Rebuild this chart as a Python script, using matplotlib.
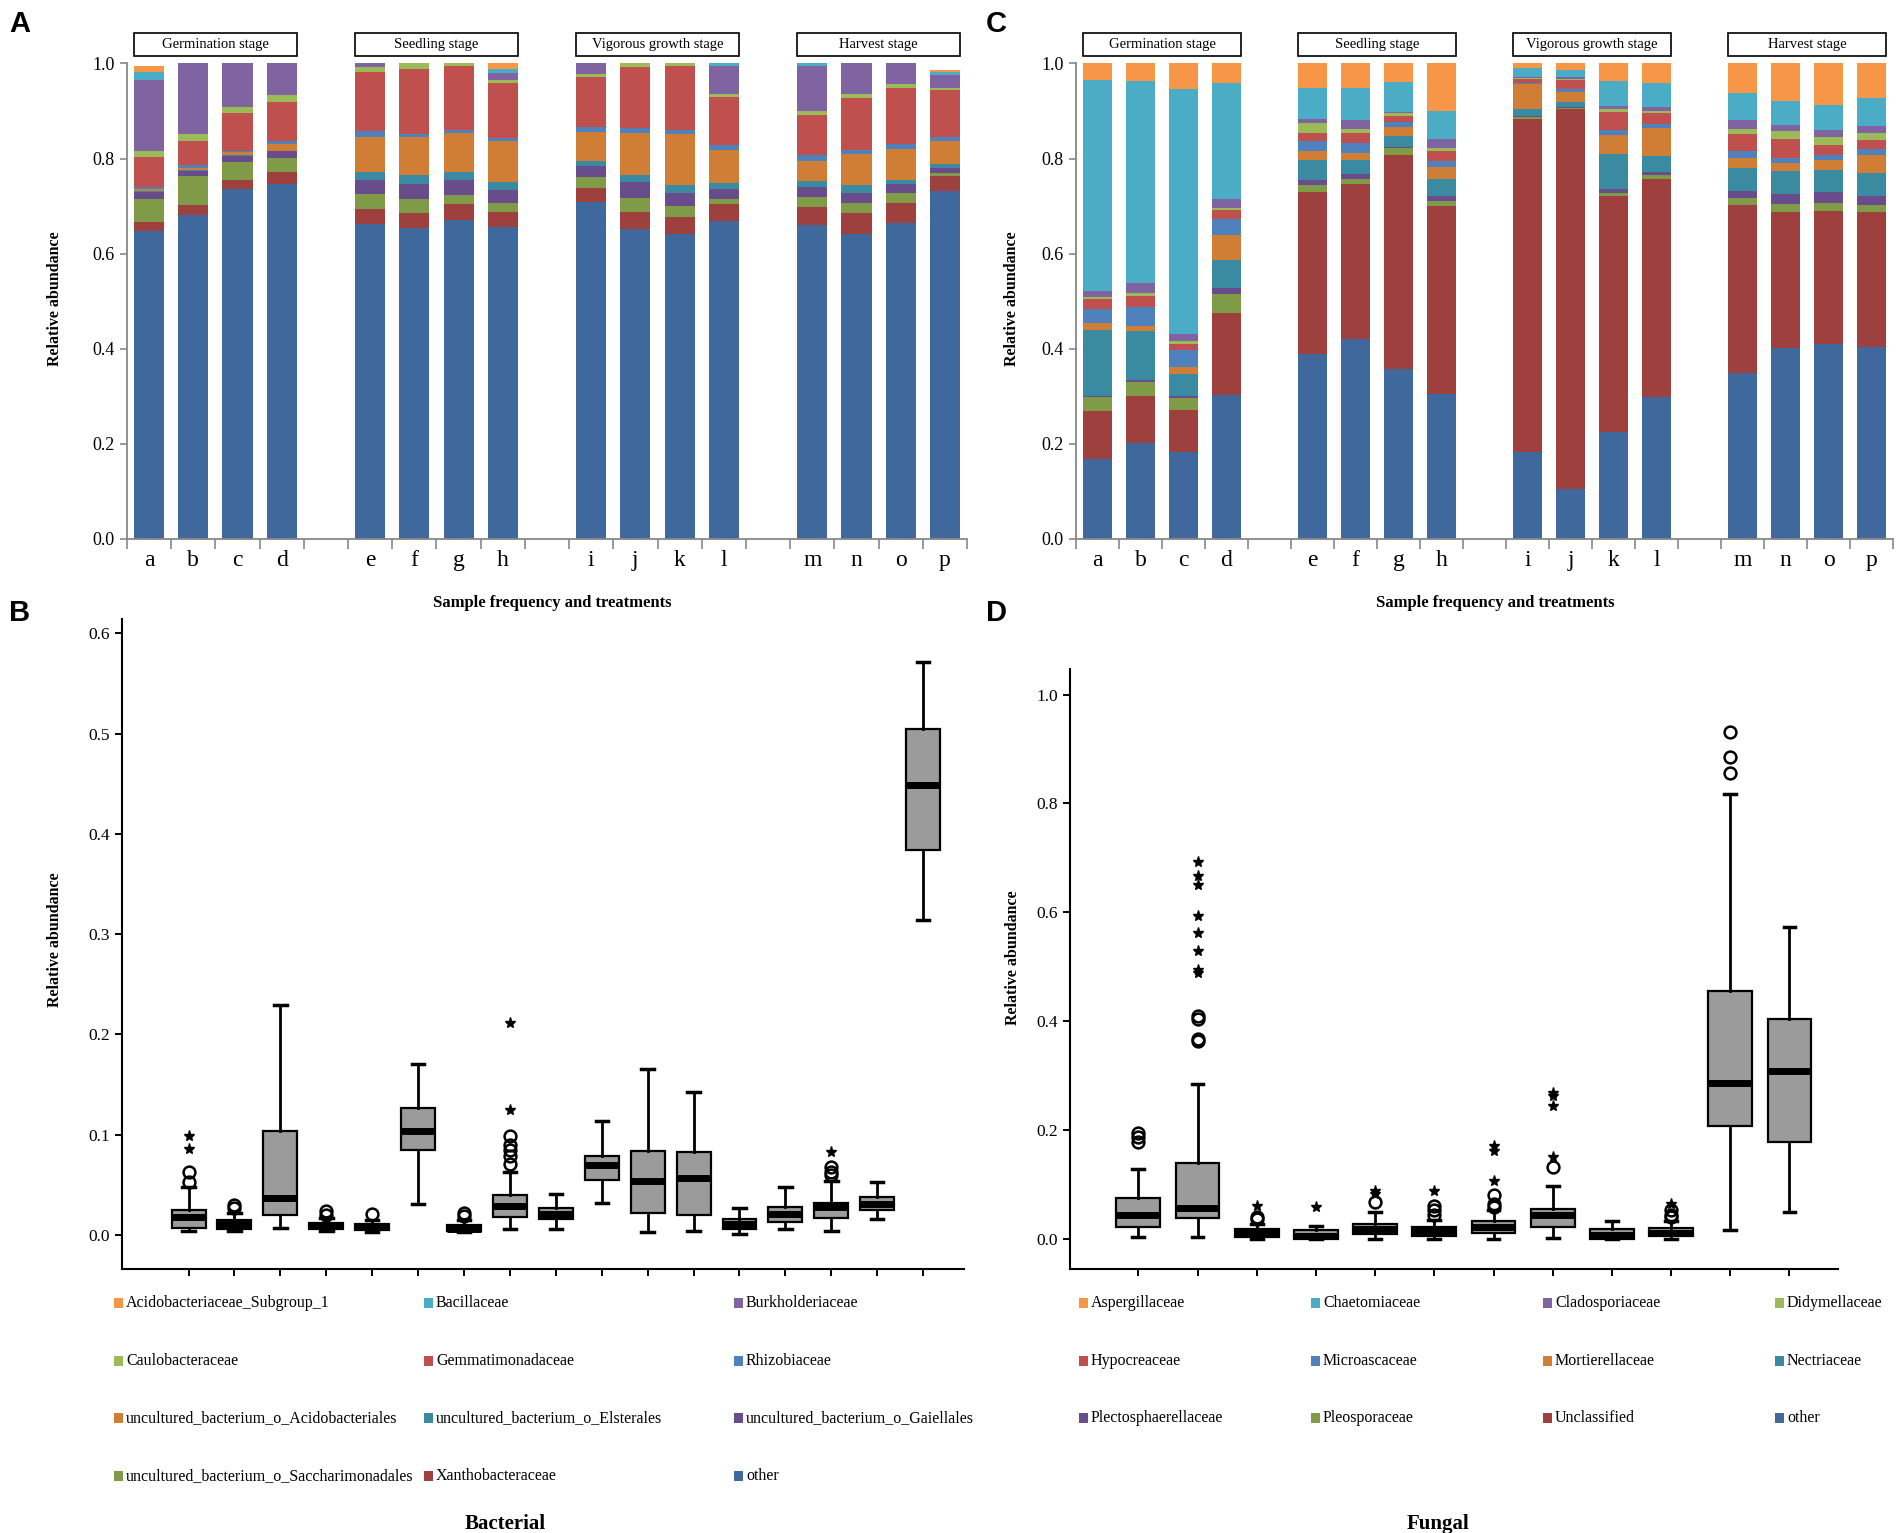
import numpy as np
import matplotlib
matplotlib.use("Agg")
import matplotlib.pyplot as plt
from matplotlib.patches import Rectangle
import matplotlib.transforms as mtrans

plt.rcParams['font.family'] = ['Liberation Serif', 'DejaVu Serif']

W, H = 1904, 1533

samples = list("abcdefghijklmnop")
stages = ["Germination stage", "Seedling stage", "Vigorous growth stage", "Harvest stage"]

# ---------------- Bacterial relative abundance: cumulative tops (bottom -> top stacking) ----
bac_other = [0.648, 0.681, 0.736, 0.746, 0.663, 0.654, 0.670, 0.656, 0.709, 0.651, 0.642, 0.668, 0.660, 0.642, 0.665, 0.732]
bac_xantho = [0.666, 0.703, 0.755, 0.771, 0.695, 0.686, 0.704, 0.688, 0.739, 0.687, 0.677, 0.704, 0.699, 0.686, 0.706, 0.764]
bac_sacchar = [0.714, 0.763, 0.792, 0.801, 0.726, 0.716, 0.724, 0.706, 0.762, 0.718, 0.701, 0.716, 0.720, 0.707, 0.727, 0.769]
bac_gaiell = [0.729, 0.774, 0.805, 0.815, 0.755, 0.746, 0.755, 0.734, 0.785, 0.751, 0.728, 0.736, 0.741, 0.727, 0.747, 0.781]
bac_elster = [0.732, 0.777, 0.808, 0.816, 0.772, 0.766, 0.771, 0.751, 0.796, 0.766, 0.745, 0.748, 0.753, 0.745, 0.756, 0.788]
bac_acidobacteriales = [0.736, 0.781, 0.813, 0.830, 0.846, 0.845, 0.854, 0.836, 0.855, 0.854, 0.852, 0.819, 0.795, 0.809, 0.821, 0.838]
bac_rhizo = [0.740, 0.786, 0.817, 0.838, 0.857, 0.852, 0.860, 0.843, 0.866, 0.864, 0.860, 0.829, 0.807, 0.818, 0.830, 0.845]
bac_gemmat = [0.804, 0.836, 0.896, 0.919, 0.982, 0.989, 0.995, 0.958, 0.971, 0.992, 0.995, 0.929, 0.892, 0.927, 0.948, 0.944]
bac_caulo = [0.817, 0.851, 0.908, 0.933, 0.993, 1.0, 1.0, 0.965, 0.978, 1.0, 1.0, 0.936, 0.901, 0.936, 0.956, 0.949]
bac_burkh = [0.965, 1.0, 1.0, 1.0, 1.0, 1.0, 1.0, 0.981, 1.0, 1.0, 1.0, 0.995, 0.995, 1.0, 1.0, 0.975]
bac_bacill = [0.983, 1.0, 1.0, 1.0, 1.0, 1.0, 1.0, 0.988, 1.0, 1.0, 1.0, 1.0, 1.0, 1.0, 1.0, 0.982]
bac_acidosub1 = [0.995, 1.0, 1.0, 1.0, 1.0, 1.0, 1.0, 1.0, 1.0, 1.0, 1.0, 1.0, 1.0, 1.0, 1.0, 0.986]

bac_names = ["Acidobacteriaceae_Subgroup_1", "Bacillaceae", "Burkholderiaceae",
             "Caulobacteraceae", "Gemmatimonadaceae", "Rhizobiaceae",
             "uncultured_bacterium_o_Acidobacteriales", "uncultured_bacterium_o_Elsterales",
             "uncultured_bacterium_o_Gaiellales", "uncultured_bacterium_o_Saccharimonadales",
             "Xanthobacteraceae", "other"]
bac_tops = [bac_acidosub1, bac_bacill, bac_burkh, bac_caulo, bac_gemmat, bac_rhizo,
            bac_acidobacteriales, bac_elster, bac_gaiell, bac_sacchar, bac_xantho, bac_other]

# ---------------- Fungal relative abundance: cumulative tops ----
fun_other = [0.169, 0.201, 0.184, 0.303, 0.389, 0.421, 0.357, 0.305, 0.183, 0.106, 0.224, 0.298, 0.350, 0.401, 0.410, 0.403]
fun_unclass = [0.269, 0.301, 0.272, 0.475, 0.730, 0.746, 0.808, 0.701, 0.884, 0.905, 0.722, 0.757, 0.702, 0.688, 0.690, 0.688]
fun_pleospor = [0.298, 0.331, 0.296, 0.516, 0.745, 0.757, 0.822, 0.711, 0.887, 0.907, 0.728, 0.765, 0.718, 0.704, 0.707, 0.702]
fun_plecto = [0.300, 0.334, 0.301, 0.528, 0.754, 0.767, 0.824, 0.721, 0.889, 0.908, 0.736, 0.771, 0.732, 0.726, 0.729, 0.722]
fun_nectri = [0.440, 0.437, 0.348, 0.587, 0.797, 0.797, 0.847, 0.757, 0.905, 0.919, 0.810, 0.806, 0.781, 0.773, 0.776, 0.769]
fun_mortier = [0.454, 0.447, 0.362, 0.639, 0.817, 0.812, 0.866, 0.782, 0.956, 0.941, 0.850, 0.864, 0.802, 0.790, 0.797, 0.808]
fun_microasc = [0.484, 0.487, 0.397, 0.672, 0.838, 0.833, 0.877, 0.794, 0.958, 0.947, 0.861, 0.873, 0.815, 0.801, 0.808, 0.821]
fun_hypocr = [0.504, 0.512, 0.410, 0.691, 0.854, 0.854, 0.889, 0.815, 0.968, 0.965, 0.898, 0.895, 0.852, 0.841, 0.828, 0.839]
fun_didym = [0.509, 0.517, 0.416, 0.697, 0.875, 0.863, 0.895, 0.822, 0.970, 0.967, 0.904, 0.901, 0.863, 0.857, 0.846, 0.853]
fun_clado = [0.521, 0.539, 0.431, 0.714, 0.884, 0.882, 0.898, 0.842, 0.972, 0.972, 0.911, 0.908, 0.881, 0.870, 0.860, 0.868]
fun_chaet = [0.965, 0.963, 0.947, 0.958, 0.949, 0.948, 0.962, 0.900, 0.990, 0.987, 0.963, 0.958, 0.937, 0.922, 0.913, 0.928]
fun_asperg = [1.0] * 16

fun_names = ["Aspergillaceae", "Chaetomiaceae", "Cladosporiaceae", "Didymellaceae",
             "Hypocreaceae", "Microascaceae", "Mortierellaceae", "Nectriaceae",
             "Plectosphaerellaceae", "Pleosporaceae", "Unclassified", "other"]
fun_tops = [fun_asperg, fun_chaet, fun_clado, fun_didym, fun_hypocr, fun_microasc,
            fun_mortier, fun_nectri, fun_plecto, fun_pleospor, fun_unclass, fun_other]

colors = ['#F79646', '#4BACC6', '#8064A2', '#9BBB59', '#C0504D', '#4F81BD',
          '#D07D35', '#3A8BA2', '#694C8C', '#7F9B47', '#9E403E', '#3F699C']

# ---------------- Box plot statistics, bacterial ----
bac_whislo = [0.004, 0.004, 0.007, 0.004, 0.003, 0.031, 0.003, 0.006, 0.006, 0.032, 0.003, 0.004, 0.001, 0.006, 0.004, 0.016, 0.314]
bac_q1 = [0.007, 0.006, 0.020, 0.006, 0.005, 0.085, 0.004, 0.018, 0.016, 0.055, 0.022, 0.020, 0.006, 0.013, 0.017, 0.025, 0.384]
bac_med = [0.018, 0.011, 0.037, 0.009, 0.008, 0.104, 0.006, 0.029, 0.021, 0.070, 0.054, 0.057, 0.011, 0.021, 0.028, 0.031, 0.449]
bac_q3 = [0.025, 0.015, 0.104, 0.012, 0.011, 0.127, 0.010, 0.040, 0.027, 0.079, 0.084, 0.083, 0.016, 0.028, 0.032, 0.038, 0.505]
bac_whishi = [0.048, 0.022, 0.229, 0.017, 0.015, 0.170, 0.015, 0.063, 0.041, 0.114, 0.166, 0.143, 0.027, 0.048, 0.054, 0.053, 0.572]
bac_circles = [[0.053, 0.063], [0.027, 0.030], [], [0.020, 0.024], [0.021], [], [0.019, 0.022],
               [0.071, 0.079, 0.085, 0.090, 0.099], [], [], [], [], [], [], [0.060, 0.063, 0.068], [], []]
bac_stars = [[0.086, 0.099], [], [], [], [], [], [], [0.125, 0.211], [], [], [], [], [], [], [0.083], [], []]

# ---------------- Box plot statistics, fungal ----
fun_whislo = [0.004, 0.004, 0.000, 0.000, 0.001, 0.001, 0.001, 0.002, 0.000, 0.001, 0.016, 0.049]
fun_q1 = [0.023, 0.038, 0.004, 0.001, 0.010, 0.0065, 0.012, 0.023, 0.000, 0.006, 0.207, 0.179]
fun_med = [0.045, 0.057, 0.011, 0.0065, 0.019, 0.015, 0.023, 0.045, 0.008, 0.012, 0.286, 0.309]
fun_q3 = [0.076, 0.140, 0.019, 0.016, 0.028, 0.022, 0.033, 0.055, 0.018, 0.020, 0.456, 0.404]
fun_whishi = [0.128, 0.285, 0.027, 0.024, 0.049, 0.035, 0.053, 0.098, 0.033, 0.033, 0.818, 0.574]
fun_circles = [[0.179, 0.187, 0.194], [0.363, 0.367, 0.405, 0.409], [0.037, 0.041], [], [0.068],
               [0.045, 0.053, 0.061], [0.058, 0.065, 0.081], [0.132], [], [0.040, 0.045, 0.053],
               [0.856, 0.885, 0.932], []]
fun_stars = [[], [0.488, 0.495, 0.529, 0.563, 0.594, 0.651, 0.667, 0.692], [0.061], [0.059],
             [0.083, 0.089], [0.089], [0.107, 0.161, 0.171], [0.151, 0.244, 0.263, 0.269], [],
             [0.065], [], []]

fig = plt.figure(figsize=(W / 100, H / 100), dpi=100)
fig.patch.set_facecolor('white')


def fbox(l, t, r, b):
    return [l / W, 1 - b / H, (r - l) / W, (b - t) / H]


def ftxt(x, y, s, **kw):
    fig.text(x / W, 1 - y / H, s, **kw)


xpos = np.array([g * 5 + k for g in range(4) for k in range(4)], dtype=float)
BW = 0.68


def stacked(ax, tops, cols):
    prev = np.zeros(16)
    for tvals, c in zip(tops[::-1], cols[::-1]):
        t = np.array(tvals)
        h = np.clip(t - prev, 0, None)
        ax.bar(xpos, h, bottom=prev, width=BW, color=c, linewidth=0)
        prev = np.maximum(prev, t)
    ax.set_xlim(-0.5, 18.5)
    ax.set_ylim(0, 1.0)
    ax.set_yticks(np.arange(0, 1.01, 0.2))
    ax.set_yticklabels(["%.1f" % v for v in np.arange(0, 1.01, 0.2)], fontsize=13)
    ax.set_xticks(xpos)
    ax.set_xticklabels(samples, fontsize=17)
    ax.tick_params(axis='x', which='major', length=0, pad=8)
    ax.set_xticks(np.arange(-0.5, 18.6, 1.0), minor=True)
    ax.tick_params(axis='x', which='minor', length=7, width=1.2, color='#888888', direction='out')
    ax.tick_params(axis='y', length=5, width=1.2, color='#888888', direction='out', pad=4)
    for s in ['top', 'right']:
        ax.spines[s].set_visible(False)
    for s in ['left', 'bottom']:
        ax.spines[s].set_color('#888888')
        ax.spines[s].set_linewidth(1.3)
    trans = mtrans.blended_transform_factory(ax.transData, ax.transAxes)
    for g, st in enumerate(stages):
        x0 = g * 5 - BW / 2
        x1 = g * 5 + 3 + BW / 2
        ax.add_patch(Rectangle((x0, 1.016), x1 - x0, 0.048, transform=trans, fill=False,
                               edgecolor='black', linewidth=1.2, clip_on=False))
        ax.text((x0 + x1) / 2, 1.040, st, transform=trans, ha='center', va='center', fontsize=10.5)


axA = fig.add_axes(fbox(127, 63.5, 967, 539))
stacked(axA, bac_tops, colors)
axC = fig.add_axes(fbox(1076, 63.5, 1893, 539))
stacked(axC, fun_tops, colors)


def boxes(ax, wl, q1, med, q3, wh, circ, stars, ylim, yticks, xlim, capw):
    n = len(med)
    stats = []
    for i in range(n):
        stats.append(dict(whislo=wl[i], q1=q1[i], med=med[i], q3=q3[i], whishi=wh[i],
                          fliers=np.array(circ[i])))
    pos = np.arange(1, n + 1)
    ax.bxp(stats, positions=pos, widths=0.74, patch_artist=True, capwidths=capw,
           boxprops=dict(facecolor='#9B9B9B', edgecolor='black', linewidth=1.6),
           whiskerprops=dict(color='black', linewidth=2.0),
           capprops=dict(color='black', linewidth=2.5),
           medianprops=dict(color='black', linewidth=5, solid_capstyle='butt'),
           flierprops=dict(marker='o', markerfacecolor='none', markeredgecolor='black',
                           markersize=8.5, markeredgewidth=1.8))
    for i in range(n):
        if stars[i]:
            ax.plot([pos[i]] * len(stars[i]), stars[i], linestyle='none', marker='*',
                    color='black', markersize=8)
    ax.set_xlim(*xlim)
    ax.set_ylim(*ylim)
    ax.set_xticks(pos)
    ax.set_xticklabels([])
    ax.set_yticks(yticks)
    ax.set_yticklabels(["%.1f" % v for v in yticks], fontsize=12.5)
    ax.tick_params(axis='both', length=5, width=1.4, color='black', direction='out')
    for s in ['top', 'right']:
        ax.spines[s].set_visible(False)
    for s in ['left', 'bottom']:
        ax.spines[s].set_linewidth(1.5)


axB = fig.add_axes(fbox(122, 619, 964, 1269))
boxes(axB, bac_whislo, bac_q1, bac_med, bac_q3, bac_whishi, bac_circles, bac_stars,
      (-0.034, 0.6144), np.arange(0, 0.61, 0.1), (-0.45, 17.89), 0.27)

axD = fig.add_axes(fbox(1070, 669, 1838, 1269))
boxes(axD, fun_whislo, fun_q1, fun_med, fun_q3, fun_whishi, fun_circles, fun_stars,
      (-0.055, 1.047), np.arange(0, 1.01, 0.2), (-0.155, 12.82), 0.2)

# axis titles
ftxt(55, 299, "Relative abundance", rotation=90, ha='center', va='center', fontsize=11.5, fontweight='bold')
ftxt(1012, 299, "Relative abundance", rotation=90, ha='center', va='center', fontsize=11.5, fontweight='bold')
ftxt(55, 940, "Relative abundance", rotation=90, ha='center', va='center', fontsize=11.5, fontweight='bold')
ftxt(1013, 958, "Relative abundance", rotation=90, ha='center', va='center', fontsize=11.5, fontweight='bold')
ftxt(552, 603, "Sample frequency and treatments", ha='center', va='center', fontsize=12, fontweight='bold')
ftxt(1495, 603, "Sample frequency and treatments", ha='center', va='center', fontsize=12, fontweight='bold')
ftxt(505, 1524, "Bacterial", ha='center', va='center', fontsize=15, fontweight='bold')
ftxt(1438, 1524, "Fungal", ha='center', va='center', fontsize=15, fontweight='bold')

for lab, (x, y) in zip("ABCD", [(20, 24), (20, 613), (996, 24), (996, 613)]):
    ftxt(x, y, lab, ha='center', va='center', fontsize=21, fontweight='bold',
         family=['Liberation Sans', 'DejaVu Sans'])


def legend(names, cols, colx, rowy, ncol):
    for i, (nm, c) in enumerate(zip(names, cols)):
        r, k = divmod(i, ncol)
        x, y = colx[k], rowy[r]
        fig.patches.append(Rectangle((x / W, 1 - (y + 5) / H), 9 / W, 10 / H, transform=fig.transFigure,
                                     facecolor=c, edgecolor='none', figure=fig))
        ftxt(x + 12, y, nm, ha='left', va='center', fontsize=11.5)


legend(bac_names, colors, [114, 424, 734], [1303, 1361, 1418, 1476], 3)
legend(fun_names, colors, [1079, 1311, 1543, 1775], [1303, 1361, 1418], 4)

fig.savefig("out.png", dpi=100, facecolor='white')
